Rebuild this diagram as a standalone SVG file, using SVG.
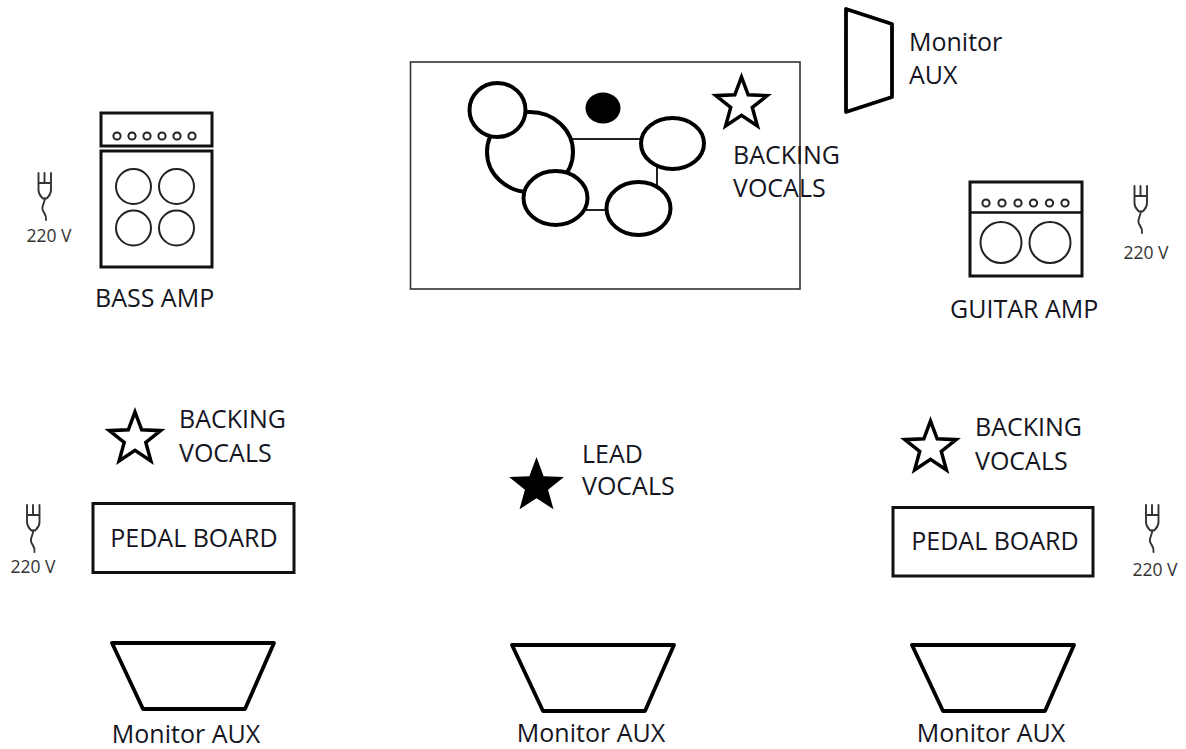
<svg xmlns="http://www.w3.org/2000/svg" xmlns:xlink="http://www.w3.org/1999/xlink" width="1186" height="749" viewBox="0 0 1186 749">
<style>
  text { font-family: "Open Sans", "Noto Sans", "Liberation Sans", sans-serif; fill: #15151f; }
  .lbl { font-size: 25px; }
  .volt { font-size: 17.5px; fill: #333; text-anchor: middle; }
  .mid { text-anchor: middle; }
  .thick { fill: none; stroke: #000; stroke-width: 3.8; stroke-linejoin: round; }
  .box { fill: none; stroke: #111; stroke-width: 3; }
  .drum { fill: #fff; stroke: #000; stroke-width: 4; }
  .rod { fill: none; stroke: #222; stroke-width: 2; }
  .knob { fill: none; stroke: #222; stroke-width: 2; }
  .spk { fill: none; stroke: #222; stroke-width: 2; }
  .plug { fill: none; stroke: #333; stroke-width: 1.9; stroke-linejoin: round; stroke-linecap: round; }
  .starO { fill: #fff; stroke: #000; stroke-width: 3.5; stroke-linejoin: miter; }
  .starF { fill: #000; stroke: none; }
</style>
<defs>
  <polygon id="star" points="0,-27 6.67,-9.17 25.68,-8.34 10.79,3.5 15.87,21.84 0,11.34 -15.87,21.84 -10.79,3.5 -25.68,-8.34 -6.67,-9.17"/>
  <g id="plugIcon" class="plug">
    <path d="M0,0 V10 M6,0 V10 M12.5,0 V10 M0,10 H12.5 M0,10 V17 Q0,21 3,24 L4.5,25.5 H8 L9.5,24 Q12.5,21 12.5,17 V10"/>
    <path d="M6.2,25.5 C6.2,31 3,32.5 4,36.5 C5,40.5 8.5,41.5 7.5,47"/>
  </g>
  <path id="wedge" d="M0,0 L162,0 L133,66 L31,66 Z"/>
</defs>
<rect width="1186" height="749" fill="#fff"/>

<g id="drum-riser">
  <rect x="410.5" y="62" width="389.5" height="227" fill="none" stroke="#333" stroke-width="1.6"/>
</g>

<g id="connectors">
  <line class="rod" x1="560" y1="139" x2="650" y2="139"/>
  <line class="rod" x1="657" y1="160" x2="657" y2="192"/>
  <line class="rod" x1="580" y1="210" x2="615" y2="210"/>
</g>

<g id="drum-kit">
  <ellipse class="drum" cx="530" cy="152" rx="43" ry="40" stroke-width="3.6"/>
  <ellipse class="drum" cx="497.5" cy="110" rx="28" ry="27"/>
  <ellipse class="drum" cx="555.5" cy="198" rx="32" ry="27"/>
  <ellipse class="drum" cx="672.5" cy="143.5" rx="31.5" ry="25.5"/>
  <ellipse class="drum" cx="638.5" cy="208.5" rx="32" ry="26.5"/>
  <ellipse cx="603" cy="108" rx="17.5" ry="15.5" fill="#000"/>
</g>

<g id="drum-backing-vocals">
  <use xlink:href="#star" class="starO" transform="translate(741.5,104)"/>
  <text class="lbl" x="733" y="164">BACKING</text>
  <text class="lbl" x="733" y="197">VOCALS</text>
</g>

<g id="monitor-drums">
  <polygon class="thick" points="846,9 892,24 892,97 846,112" stroke-width="3"/>
  <text class="lbl" x="909" y="51">Monitor</text>
  <text class="lbl" x="909" y="84">AUX</text>
</g>

<g id="bass-amp">
  <rect class="box" x="101" y="113" width="111" height="33"/>
  <circle class="knob" cx="117" cy="136" r="3.6"/>
  <circle class="knob" cx="132" cy="136" r="3.6"/>
  <circle class="knob" cx="147" cy="136" r="3.6"/>
  <circle class="knob" cx="162" cy="136" r="3.6"/>
  <circle class="knob" cx="177" cy="136" r="3.6"/>
  <circle class="knob" cx="192" cy="136" r="3.6"/>
  <rect class="box" x="101" y="151" width="111" height="116"/>
  <circle class="spk" cx="133.5" cy="186.5" r="17.5"/>
  <circle class="spk" cx="176.5" cy="186.5" r="17.5"/>
  <circle class="spk" cx="133.5" cy="228" r="17.5"/>
  <circle class="spk" cx="176.5" cy="228" r="17.5"/>
  <text class="lbl" x="95" y="307">BASS AMP</text>
</g>

<g id="power-bass">
  <use xlink:href="#plugIcon" transform="translate(38.5,173)"/>
  <text class="volt" x="49" y="242">220 V</text>
</g>

<g id="guitar-amp">
  <rect class="box" x="970" y="182" width="112" height="94" stroke-width="2.6"/>
  <line x1="970" y1="212.5" x2="1082" y2="212.5" stroke="#111" stroke-width="2.6"/>
  <circle class="knob" cx="986" cy="203" r="3.6"/>
  <circle class="knob" cx="1002" cy="203" r="3.6"/>
  <circle class="knob" cx="1018" cy="203" r="3.6"/>
  <circle class="knob" cx="1033.5" cy="203" r="3.6"/>
  <circle class="knob" cx="1049.5" cy="203" r="3.6"/>
  <circle class="knob" cx="1065" cy="203" r="3.6"/>
  <circle class="spk" cx="1001" cy="242.5" r="20.5"/>
  <circle class="spk" cx="1050" cy="242.5" r="20.5"/>
  <text class="lbl" x="950" y="318">GUITAR AMP</text>
</g>

<g id="power-guitar">
  <use xlink:href="#plugIcon" transform="translate(1134.5,186)"/>
  <text class="volt" x="1146" y="259">220 V</text>
</g>

<g id="backing-vocals-left">
  <use xlink:href="#star" class="starO" transform="translate(135,439)"/>
  <text class="lbl" x="179" y="428">BACKING</text>
  <text class="lbl" x="179" y="462">VOCALS</text>
</g>

<g id="lead-vocals">
  <use xlink:href="#star" class="starF" transform="translate(536.5,486) scale(1.07)"/>
  <text class="lbl" x="582" y="463">LEAD</text>
  <text class="lbl" x="582" y="495">VOCALS</text>
</g>

<g id="backing-vocals-right">
  <use xlink:href="#star" class="starO" transform="translate(930.5,448)"/>
  <text class="lbl" x="975" y="436">BACKING</text>
  <text class="lbl" x="975" y="470">VOCALS</text>
</g>

<g id="pedal-board-left">
  <rect class="box" x="93" y="503.5" width="201" height="69"/>
  <text class="lbl mid" x="194" y="547">PEDAL BOARD</text>
</g>

<g id="power-left">
  <use xlink:href="#plugIcon" transform="translate(27,505)"/>
  <text class="volt" x="33" y="573">220 V</text>
</g>

<g id="pedal-board-right">
  <rect class="box" x="893" y="507.5" width="200" height="68.5"/>
  <text class="lbl mid" x="995" y="550">PEDAL BOARD</text>
</g>

<g id="power-right">
  <use xlink:href="#plugIcon" transform="translate(1146,505)"/>
  <text class="volt" x="1155" y="576">220 V</text>
</g>

<g id="monitor-left">
  <use xlink:href="#wedge" class="thick" transform="translate(112,643)"/>
  <text class="lbl mid" x="186" y="743">Monitor AUX</text>
</g>

<g id="monitor-center">
  <use xlink:href="#wedge" class="thick" transform="translate(512,645)"/>
  <text class="lbl mid" x="591" y="742">Monitor AUX</text>
</g>

<g id="monitor-right">
  <use xlink:href="#wedge" class="thick" transform="translate(912,645)"/>
  <text class="lbl mid" x="991" y="742">Monitor AUX</text>
</g>
</svg>
